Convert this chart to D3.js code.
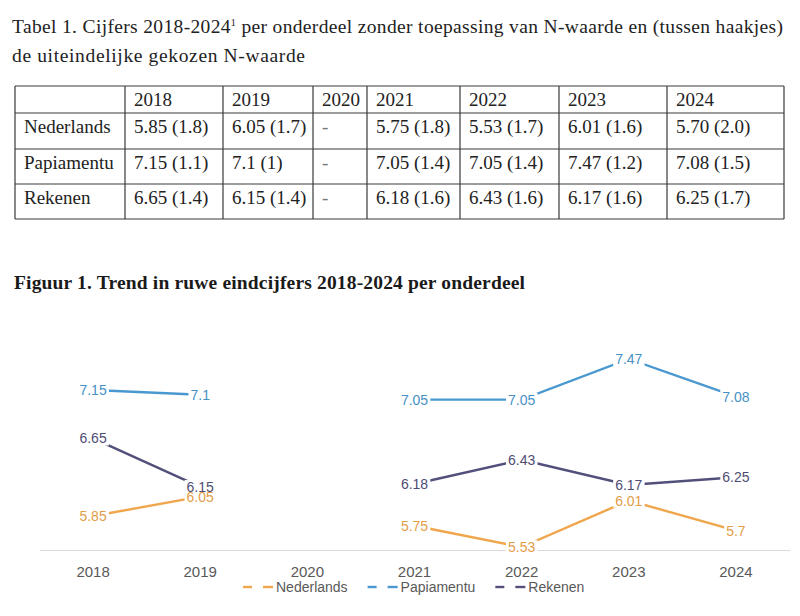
<!DOCTYPE html>
<html>
<head>
<meta charset="utf-8">
<script src="https://cdn.jsdelivr.net/npm/d3@7"></script>
<style>
  html, body { margin: 0; padding: 0; background: #fff; }
  svg { display: block; }
</style>
</head>
<body>
<svg id="chart" width="800" height="616"></svg>
<script>
// ---------- data ----------
const tableTitle1 = "Tabel 1. Cijfers 2018-2024";
const tableTitleSup = "1";
const tableTitle1b = " per onderdeel zonder toepassing van N-waarde en (tussen haakjes)";
const tableTitle2 = "de uiteindelijke gekozen N-waarde";
const tableYears = ["2018", "2019", "2020", "2021", "2022", "2023", "2024"];
const rowLabels = ["Nederlands", "Papiamentu", "Rekenen"];
const rowNederlands = ["5.85 (1.8)", "6.05 (1.7)", "-", "5.75 (1.8)", "5.53 (1.7)", "6.01 (1.6)", "5.70 (2.0)"];
const rowPapiamentu = ["7.15 (1.1)", "7.1 (1)", "-", "7.05 (1.4)", "7.05 (1.4)", "7.47 (1.2)", "7.08 (1.5)"];
const rowRekenen = ["6.65 (1.4)", "6.15 (1.4)", "-", "6.18 (1.6)", "6.43 (1.6)", "6.17 (1.6)", "6.25 (1.7)"];

const figureTitle = "Figuur 1. Trend in ruwe eindcijfers 2018-2024 per onderdeel";
const years = ["2018", "2019", "2020", "2021", "2022", "2023", "2024"];
const nederlands = [5.85, 6.05, null, 5.75, 5.53, 6.01, 5.7];
const papiamentu = [7.15, 7.1, null, 7.05, 7.05, 7.47, 7.08];
const rekenen = [6.65, 6.15, null, 6.18, 6.43, 6.17, 6.25];
const seriesNames = ["Nederlands", "Papiamentu", "Rekenen"];
const seriesColors = ["#EFA64C", "#4A98D0", "#52507A"];

// ---------- drawing ----------
const svg = d3.select("#chart");
const serif = "'Liberation Serif', 'Times New Roman', serif";
const sans = "'Liberation Sans', Arial, sans-serif";

// Title of table
const t1 = svg.append("text")
  .attr("x", 12).attr("y", 33)
  .attr("font-family", serif).attr("font-size", 19.5).attr("fill", "#222")
  .attr("textLength", 771).attr("lengthAdjust", "spacing");
t1.append("tspan").text(tableTitle1);
t1.append("tspan").attr("font-size", 10).attr("dy", -7).text(tableTitleSup);
t1.append("tspan").attr("dy", 7).text(tableTitle1b);

svg.append("text")
  .attr("x", 12).attr("y", 62)
  .attr("font-family", serif).attr("font-size", 19.5).attr("fill", "#222")
  .attr("textLength", 293).attr("lengthAdjust", "spacing")
  .text(tableTitle2);

// Table
const colEdges = [15, 125, 223, 313, 367, 460, 559, 667, 784];
const rowEdges = [86, 113, 149, 184, 219];
const table = svg.append("g");
const lineColor = "#3a3a3a";
colEdges.forEach(x => table.append("line")
  .attr("x1", x).attr("x2", x).attr("y1", rowEdges[0]).attr("y2", rowEdges[rowEdges.length - 1])
  .attr("stroke", lineColor).attr("stroke-width", 1.2));
rowEdges.forEach(y => table.append("line")
  .attr("x1", colEdges[0]).attr("x2", colEdges[colEdges.length - 1]).attr("y1", y).attr("y2", y)
  .attr("stroke", lineColor).attr("stroke-width", 1.2));

const textBaselines = [106, 133, 169, 204];
const cellText = (x, y, s, fill) => table.append("text")
  .attr("x", x).attr("y", y)
  .attr("font-family", serif).attr("font-size", 19).attr("fill", fill || "#222")
  .text(s);

tableYears.forEach((yr, i) => cellText(colEdges[i + 1] + 9, textBaselines[0], yr));
const tableRows = [rowNederlands, rowPapiamentu, rowRekenen];
tableRows.forEach((row, r) => {
  cellText(colEdges[0] + 9, textBaselines[r + 1], rowLabels[r]);
  row.forEach((s, i) => cellText(colEdges[i + 1] + 9, textBaselines[r + 1], s, s === "-" ? "#777" : "#222"));
});

// Figure title
svg.append("text")
  .attr("x", 14).attr("y", 289)
  .attr("font-family", serif).attr("font-size", 19.5).attr("font-weight", "bold").attr("fill", "#1a1a1a")
  .attr("textLength", 511).attr("lengthAdjust", "spacing")
  .text(figureTitle);

// Chart
const x = d3.scaleBand().domain(years).range([39.5, 789.5]);
const cx = d => x(d) + x.bandwidth() / 2;
const y = d3.scaleLinear().domain([5.5, 7.5]).range([550, 356]);

const axis = svg.append("g")
  .attr("transform", `translate(0,${y(5.5)})`)
  .call(d3.axisBottom(x).tickSize(0).tickSizeOuter(0).tickPadding(16));
axis.select(".domain").attr("stroke", "#d9d9d9").attr("stroke-width", 1);
axis.selectAll(".tick text")
  .attr("font-family", sans).attr("font-size", 15).attr("fill", "#595959");

const allSeries = [nederlands, papiamentu, rekenen];
const line = d3.line()
  .defined(d => d.v != null)
  .x(d => cx(d.year))
  .y(d => y(d.v));

const lineG = svg.append("g");
allSeries.forEach((vals, s) => {
  const pts = years.map((yr, i) => ({ year: yr, v: vals[i] }));
  lineG.append("path")
    .datum(pts)
    .attr("d", line)
    .attr("fill", "none")
    .attr("stroke", seriesColors[s])
    .attr("stroke-width", 2.4);
});

// Labels: white background boxes first, then texts
const labelData = [];
allSeries.forEach((vals, s) => {
  vals.forEach((v, i) => {
    if (v != null) labelData.push({ s, v, year: years[i] });
  });
});
const bgG = svg.append("g");
const txtG = svg.append("g");
labelData.forEach(d => {
  const t = txtG.append("text")
    .attr("x", cx(d.year)).attr("y", y(d.v))
    .attr("dy", "0.36em")
    .attr("text-anchor", "middle")
    .attr("font-family", sans).attr("font-size", 14)
    .attr("fill", d3.color(seriesColors[d.s]).darker(0.15))
    .text(String(d.v));
  const bb = t.node().getBBox();
  bgG.append("rect")
    .attr("x", bb.x - 2).attr("y", bb.y + 1)
    .attr("width", bb.width + 4).attr("height", bb.height - 2)
    .attr("fill", "#fff");
});

// Legend
const legend = svg.append("g").attr("transform", "translate(0,587)");
let lx = 243;
seriesNames.forEach((name, s) => {
  const g = legend.append("g");
  g.append("line").attr("x1", lx).attr("x2", lx + 9).attr("y1", 0).attr("y2", 0)
    .attr("stroke", seriesColors[s]).attr("stroke-width", 2.4);
  g.append("line").attr("x1", lx + 20).attr("x2", lx + 30).attr("y1", 0).attr("y2", 0)
    .attr("stroke", seriesColors[s]).attr("stroke-width", 2.4);
  const t = g.append("text")
    .attr("x", lx + 33).attr("y", 0).attr("dy", "0.36em")
    .attr("font-family", sans).attr("font-size", 14).attr("fill", "#595959")
    .text(name);
  lx = lx + 33 + t.node().getComputedTextLength() + 20;
});
</script>
</body>
</html>
